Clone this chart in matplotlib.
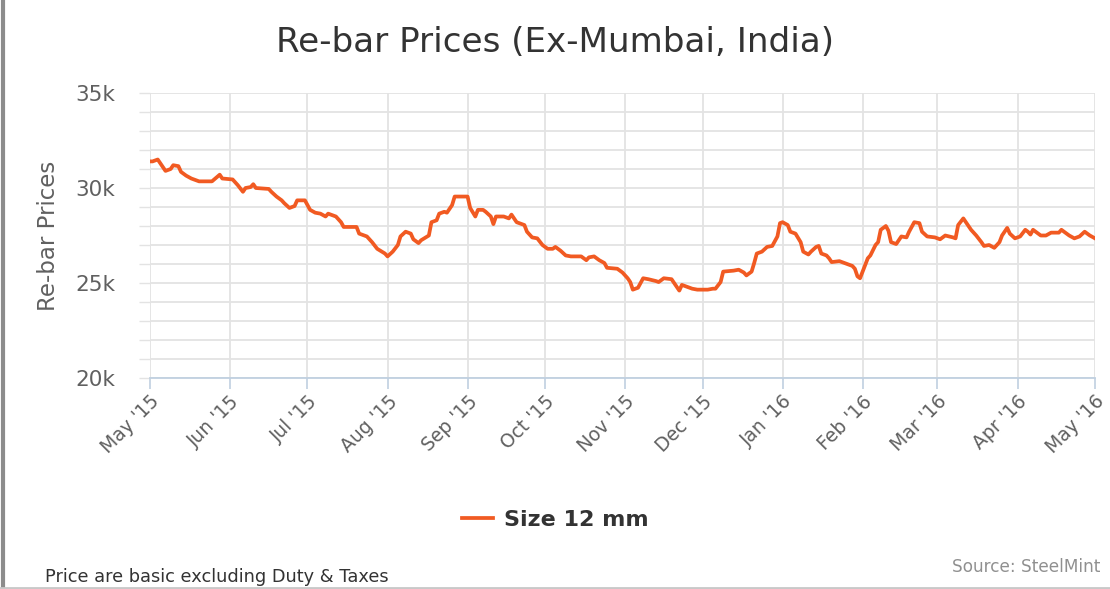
import matplotlib
matplotlib.use("Agg")
import matplotlib.pyplot as plt
import matplotlib.dates as mdates
import matplotlib.ticker as ticker
from matplotlib.lines import Line2D
import pandas as pd

# Size 12 mm re-bar, Ex-Mumbai (INR/t)
dates = [
    "2015-05-01", "2015-05-02", "2015-05-04", "2015-05-05", "2015-05-07", "2015-05-09",
    "2015-05-10", "2015-05-12", "2015-05-13", "2015-05-15", "2015-05-17", "2015-05-20",
    "2015-05-25", "2015-05-28", "2015-05-29", "2015-06-02", "2015-06-04", "2015-06-06",
    "2015-06-07", "2015-06-09", "2015-06-10", "2015-06-11", "2015-06-16", "2015-06-17",
    "2015-06-19", "2015-06-21", "2015-06-22", "2015-06-24", "2015-06-26", "2015-06-27",
    "2015-06-30", "2015-07-02", "2015-07-04", "2015-07-06", "2015-07-08", "2015-07-09",
    "2015-07-12", "2015-07-14", "2015-07-15", "2015-07-20", "2015-07-21", "2015-07-24",
    "2015-07-26", "2015-07-28", "2015-07-31", "2015-08-01", "2015-08-03", "2015-08-05",
    "2015-08-06", "2015-08-08", "2015-08-10", "2015-08-11", "2015-08-13", "2015-08-14",
    "2015-08-17", "2015-08-18", "2015-08-20", "2015-08-21", "2015-08-23", "2015-08-24",
    "2015-08-26", "2015-08-27", "2015-08-31", "2015-09-01", "2015-09-02", "2015-09-04",
    "2015-09-05", "2015-09-07", "2015-09-08", "2015-09-10", "2015-09-11", "2015-09-12",
    "2015-09-15", "2015-09-17", "2015-09-18", "2015-09-20", "2015-09-23", "2015-09-24",
    "2015-09-26", "2015-09-28", "2015-09-30", "2015-10-02", "2015-10-04", "2015-10-05",
    "2015-10-07", "2015-10-09", "2015-10-11", "2015-10-15", "2015-10-17", "2015-10-18",
    "2015-10-20", "2015-10-22", "2015-10-24", "2015-10-25", "2015-10-29", "2015-10-31",
    "2015-11-02", "2015-11-03", "2015-11-04", "2015-11-06", "2015-11-08", "2015-11-10",
    "2015-11-13", "2015-11-14", "2015-11-16", "2015-11-19", "2015-11-20", "2015-11-22",
    "2015-11-23", "2015-11-25", "2015-11-27", "2015-11-29", "2015-12-03", "2015-12-05",
    "2015-12-06", "2015-12-08", "2015-12-09", "2015-12-13", "2015-12-15", "2015-12-17",
    "2015-12-18", "2015-12-20", "2015-12-21", "2015-12-22", "2015-12-24", "2015-12-26",
    "2015-12-28", "2015-12-30", "2015-12-31", "2016-01-01", "2016-01-03", "2016-01-04",
    "2016-01-06", "2016-01-08", "2016-01-09", "2016-01-11", "2016-01-12", "2016-01-14",
    "2016-01-15", "2016-01-16", "2016-01-18", "2016-01-19", "2016-01-20", "2016-01-23",
    "2016-01-25", "2016-01-28", "2016-01-29", "2016-01-30", "2016-01-31", "2016-02-01",
    "2016-02-03", "2016-02-04", "2016-02-06", "2016-02-07", "2016-02-08", "2016-02-10",
    "2016-02-11", "2016-02-12", "2016-02-14", "2016-02-15", "2016-02-16", "2016-02-18",
    "2016-02-19", "2016-02-21", "2016-02-23", "2016-02-24", "2016-02-26", "2016-02-29",
    "2016-03-02", "2016-03-04", "2016-03-07", "2016-03-08", "2016-03-09", "2016-03-11",
    "2016-03-12", "2016-03-14", "2016-03-16", "2016-03-18", "2016-03-19", "2016-03-21",
    "2016-03-23", "2016-03-25", "2016-03-26", "2016-03-28", "2016-03-29", "2016-03-31",
    "2016-04-02", "2016-04-04", "2016-04-05", "2016-04-06", "2016-04-07", "2016-04-10",
    "2016-04-12", "2016-04-14", "2016-04-17", "2016-04-18", "2016-04-21", "2016-04-23",
    "2016-04-25", "2016-04-27", "2016-04-29", "2016-05-01",
]
prices = [
    31400, 31400, 31500, 31300, 30900, 31000,
    31200, 31150, 30850, 30650, 30500, 30350,
    30350, 30700, 30500, 30450, 30150, 29800,
    30000, 30050, 30200, 30000, 29950, 29800,
    29550, 29350, 29200, 28950, 29050, 29350,
    29350, 28850, 28700, 28650, 28500, 28650,
    28500, 28200, 27950, 27950, 27600, 27450,
    27150, 26800, 26550, 26400, 26650, 27000,
    27450, 27700, 27600, 27300, 27100, 27250,
    27500, 28200, 28300, 28650, 28750, 28700,
    29100, 29550, 29550, 29550, 28950, 28500,
    28850, 28850, 28750, 28500, 28100, 28500,
    28500, 28400, 28600, 28200, 28050, 27700,
    27400, 27350, 27000, 26800, 26800, 26900,
    26700, 26450, 26400, 26400, 26200, 26350,
    26400, 26200, 26050, 25800, 25750, 25550,
    25250, 25050, 24650, 24750, 25250, 25200,
    25100, 25050, 25250, 25200, 25000, 24600,
    24900, 24800, 24700, 24650, 24650, 24700,
    24700, 25050, 25600, 25650, 25700, 25550,
    25400, 25600, 26050, 26550, 26650, 26900,
    26950, 27450, 28150, 28200, 28050, 27700,
    27600, 27150, 26650, 26500, 26650, 26900,
    26950, 26550, 26450, 26300, 26100, 26150,
    26050, 25900, 25750, 25350, 25250, 25600,
    26300, 26450, 27000, 27150, 27800, 28000,
    27750, 27150, 27050, 27250, 27450, 27400,
    27700, 28200, 28150, 27700, 27450, 27400,
    27300, 27500, 27400, 27350, 28050, 28400,
    28200, 27800, 27500, 27150, 26950, 27000,
    26850, 27150, 27500, 27900, 27600, 27350,
    27450, 27800, 27700, 27550, 27800, 27500,
    27500, 27650, 27650, 27800, 27500, 27350,
    27450, 27700, 27500, 27350,
]
series_name = "Size 12 mm"
title = "Re-bar Prices (Ex-Mumbai, India)"
y_label = "Re-bar Prices"
note_left = "Price are basic excluding Duty & Taxes"
note_right = "Source: SteelMint"

W, H = 1110, 589
fig = plt.figure(figsize=(W / 100, H / 100), dpi=100)
ax = fig.add_axes([150 / W, 1 - 378 / H, (1095 - 150) / W, (378 - 93) / H])

t = pd.to_datetime(dates)
ax.plot(t, prices, color="#F15A22", lw=2.7, solid_joinstyle="round", label=series_name)

ax.set_xlim(pd.Timestamp("2015-05-01"), pd.Timestamp("2016-05-01"))
ax.set_ylim(20000, 35000)

# y axis: grid every 1k, labels every 5k
ax.yaxis.set_major_locator(ticker.MultipleLocator(1000))
ax.yaxis.set_major_formatter(
    ticker.FuncFormatter(lambda v, _: f"{int(v/1000)}k" if v % 5000 == 0 else ""))
ax.tick_params(axis="y", length=8, width=1, color="#E3E3E3", pad=17,
               labelsize=15.5, labelcolor="#606060")

# x axis: month ticks
ax.xaxis.set_major_locator(mdates.MonthLocator())
ax.xaxis.set_major_formatter(mdates.DateFormatter("%b '%y"))
ax.tick_params(axis="x", length=8, width=1.2, color="#C0D0E0", pad=2,
               labelsize=13.5, labelcolor="#606060")
for lab in ax.get_xticklabels():
    lab.set_rotation(45)
    lab.set_ha("right")
    lab.set_va("top")
    lab.set_rotation_mode("anchor")

ax.grid(True, color="#E3E3E3", lw=1.3)
ax.set_axisbelow(True)
for side in ["top", "right", "left"]:
    ax.spines[side].set_visible(False)
ax.spines["bottom"].set_color("#C0D0E0")
ax.spines["bottom"].set_linewidth(1.3)

ax.set_ylabel(y_label, fontsize=16.5, color="#606060", labelpad=11)

fig.text(0.5, 1 - 42 / H, title, ha="center", va="center", fontsize=24.6, color="#333333")

leg = fig.legend(loc="center", bbox_to_anchor=(0.5, 1 - 520 / H), frameon=False,
                 handlelength=1.4, handletextpad=0.5,
                 prop={"size": 16, "weight": "bold"})
for txt in leg.get_texts():
    txt.set_color("#333333")

fig.text(45 / W, 1 - 577 / H, note_left, ha="left", va="center", fontsize=12.8, color="#333333")
fig.text(1100 / W, 1 - 567 / H, note_right, ha="right", va="center", fontsize=12.2, color="#909090")

# chart border (left and bottom)
fig.add_artist(Line2D([3 / W, 3 / W], [0, 1], transform=fig.transFigure, color="#8C8C8C", lw=3))
fig.add_artist(Line2D([0, 1], [1.5 / H, 1.5 / H], transform=fig.transFigure, color="#C8C8C8", lw=2))

fig.savefig("out.png", dpi=100)
